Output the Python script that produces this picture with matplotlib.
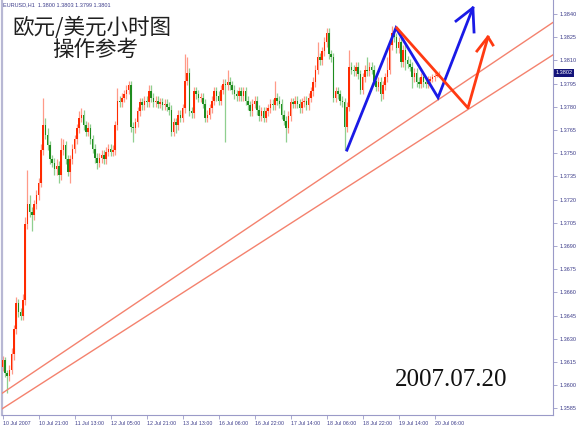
import matplotlib
matplotlib.use("Agg")
import matplotlib.pyplot as plt

# ---------------- data ----------------
first_open = 1.3612
closes = [
    1.3616, 1.3608, 1.3606, 1.3610, 1.3620, 1.3636, 1.3653, 1.3647, 1.3645, 1.3655,
    1.3704, 1.3717, 1.3712, 1.3710, 1.3717, 1.3723, 1.3731, 1.3752, 1.3768, 1.3762,
    1.3755, 1.3746, 1.3744, 1.3740, 1.3742, 1.3736, 1.3752, 1.3755, 1.3746, 1.3738,
    1.3746, 1.3753, 1.3759, 1.3766, 1.3773, 1.3775, 1.3768, 1.3764, 1.3766, 1.3759,
    1.3753, 1.3747, 1.3744, 1.3747, 1.3749, 1.3746, 1.3751, 1.3753, 1.3751, 1.3752,
    1.3768, 1.3784, 1.3783, 1.3786, 1.3788, 1.3791, 1.3794, 1.3767, 1.3766, 1.3770,
    1.3777, 1.3783, 1.3781, 1.3784, 1.3783, 1.3790, 1.3786, 1.3783, 1.3784, 1.3782,
    1.3783, 1.3781, 1.3782, 1.3780, 1.3778, 1.3764, 1.3770, 1.3768, 1.3775, 1.3773,
    1.3779, 1.3797, 1.3802, 1.3777, 1.3776, 1.3790, 1.3788, 1.3786, 1.3786, 1.3782,
    1.3773, 1.3775, 1.3779, 1.3784, 1.3790, 1.3787, 1.3784, 1.3791, 1.3795, 1.3794,
    1.3796, 1.3794, 1.3791, 1.3788, 1.3787, 1.3790, 1.3787, 1.3790, 1.3784, 1.3781,
    1.3777, 1.3782, 1.3784, 1.3778, 1.3774, 1.3777, 1.3773, 1.3777, 1.3779, 1.3782,
    1.3781, 1.3786, 1.3784, 1.3782, 1.3775, 1.3771, 1.3766, 1.3774, 1.3783, 1.3782,
    1.3784, 1.3782, 1.3779, 1.3783, 1.3784, 1.3781, 1.3786, 1.3790, 1.3796, 1.3804,
    1.3812, 1.3810, 1.3816, 1.3822, 1.3828, 1.3814, 1.3812, 1.3786, 1.3790, 1.3788,
    1.3784, 1.3783, 1.3767, 1.3780, 1.3806, 1.3804, 1.3803, 1.3806, 1.3801, 1.3791,
    1.3799, 1.3804, 1.3803, 1.3806, 1.3804, 1.3797, 1.3793, 1.3796, 1.3788, 1.3794,
    1.3799, 1.3804, 1.3820, 1.3828, 1.3825, 1.3818, 1.3822, 1.3809, 1.3817, 1.3810,
    1.3808, 1.3806, 1.3799, 1.3802, 1.3796, 1.3795, 1.3799, 1.3796, 1.3795, 1.3797,
    1.3798, 1.3799, 1.3800, 1.3800, 1.3801,
]
# wick lengths beyond the body, in pips
wick_up = [
    3, 2, 2, 3, 4, 3, 4, 3, 3, 4,
    5, 22, 6, 3, 3, 3, 3, 4, 18, 5,
    4, 3, 3, 3, 4, 3, 8, 4, 3, 3,
    3, 3, 3, 3, 4, 4, 3, 3, 4, 3,
    3, 3, 3, 3, 3, 3, 3, 3, 3, 3,
    3, 8, 3, 3, 3, 3, 3, 3, 3, 3,
    3, 3, 3, 3, 3, 4, 4, 3, 3, 3,
    3, 3, 3, 3, 3, 3, 3, 3, 3, 3,
    3, 17, 10, 3, 3, 3, 3, 3, 3, 3,
    3, 3, 3, 3, 3, 3, 3, 3, 3, 3,
    8, 3, 3, 3, 3, 3, 3, 3, 3, 3,
    3, 3, 3, 3, 3, 3, 3, 3, 3, 3,
    3, 11, 3, 3, 3, 3, 3, 3, 3, 3,
    3, 3, 3, 3, 3, 3, 3, 3, 3, 3,
    10, 3, 3, 3, 3, 3, 3, 3, 3, 3,
    3, 3, 3, 3, 11, 3, 3, 3, 3, 3,
    3, 3, 8, 3, 3, 3, 3, 3, 3, 3,
    3, 8, 3, 4, 3, 3, 3, 3, 3, 3,
    3, 3, 3, 3, 3, 3, 3, 3, 3, 3,
    2, 2, 2, 2, 2,
]
wick_dn = [
    3, 3, 11, 3, 3, 4, 3, 3, 3, 3,
    3, 3, 3, 10, 3, 3, 3, 3, 3, 3,
    3, 3, 3, 4, 4, 5, 3, 3, 3, 3,
    7, 3, 3, 3, 3, 3, 3, 3, 3, 3,
    3, 3, 4, 3, 3, 3, 3, 3, 3, 3,
    3, 3, 3, 3, 3, 3, 3, 3, 9, 3,
    3, 3, 3, 3, 3, 3, 3, 3, 3, 3,
    3, 3, 3, 3, 3, 3, 3, 5, 3, 3,
    3, 3, 3, 3, 3, 3, 3, 3, 3, 3,
    3, 3, 3, 3, 3, 3, 3, 3, 3, 37,
    3, 3, 3, 3, 3, 3, 3, 3, 3, 3,
    3, 3, 3, 3, 3, 3, 3, 3, 3, 3,
    3, 3, 3, 3, 3, 3, 9, 3, 3, 3,
    3, 3, 3, 3, 3, 3, 3, 3, 3, 3,
    3, 3, 3, 3, 3, 3, 3, 3, 3, 3,
    3, 3, 15, 3, 3, 3, 3, 3, 3, 3,
    3, 3, 3, 3, 3, 3, 3, 3, 4, 3,
    3, 3, 3, 3, 3, 3, 3, 3, 3, 6,
    3, 3, 7, 3, 3, 3, 3, 3, 3, 3,
    2, 2, 2, 1, 1,
]

xtick_bars = [0, 16, 32, 48, 64, 80, 96, 112, 128, 144, 160, 176, 192]
xtick_labels = ["10 Jul 2007", "10 Jul 21:00", "11 Jul 13:00", "12 Jul 05:00",
                "12 Jul 21:00", "13 Jul 13:00", "16 Jul 06:00", "16 Jul 22:00",
                "17 Jul 14:00", "18 Jul 06:00", "18 Jul 22:00", "19 Jul 14:00",
                "20 Jul 06:00"]
ytick_values = [1.3585, 1.3600, 1.3615, 1.3630, 1.3645, 1.3660, 1.3675, 1.3690,
                1.3705, 1.3720, 1.3735, 1.3750, 1.3765, 1.3780, 1.3795, 1.3810,
                1.3825, 1.3840]
current_price = 1.3802

# channel lines (bar index, price)
channel_upper_x = [-1, 245]
channel_upper_y = [1.3594, 1.3835]
channel_lower_x = [-1, 245]
channel_lower_y = [1.3584, 1.3814]

# forecast paths
blue_path_x = [153.0, 174.8, 193.5, 209.0]
blue_path_y = [1.3752, 1.3831, 1.3786, 1.3844]
blue_head_x = [201.5, 209.0, 209.5]
blue_head_y = [1.38355, 1.3844, 1.38284]
red_path_x = [175.2, 206.8, 215.7]
red_path_y = [1.3831, 1.37793, 1.38252]
red_head_x = [210.8, 215.7, 217.9]
red_head_y = [1.38161, 1.38252, 1.38200]

# ---------------- drawing ----------------
W, H = 580, 430
fig = plt.figure(figsize=(W / 100, H / 100), dpi=100)
fig.patch.set_facecolor("white")
ax = fig.add_axes([2 / W, 15 / H, 551 / W, 415 / H])
ax.set_xlim(-0.3, 244.6)
ax.set_ylim(1.35807, 1.38491)

pip = 0.0001
red_body, green_body = "#ff2a00", "#1e8c1e"
red_wick, green_wick = "#ff9a88", "#8fcf8f"
opens = [first_open] + closes[:-1]
for i, (o, c) in enumerate(zip(opens, closes)):
    up = c >= o
    hi = max(o, c) + wick_up[i] * pip
    lo = min(o, c) - wick_dn[i] * pip
    ax.vlines(i, lo, hi, color=red_wick if up else green_wick, lw=0.9, zorder=2)
    h = max(abs(c - o), 0.6 * pip)
    ax.bar(i, h, bottom=min(o, c), width=0.7,
           color=red_body if up else green_body, lw=0, zorder=3)

line_col = "#f4826e"
ax.plot(channel_upper_x, channel_upper_y, color=line_col, lw=1.0, zorder=4)
ax.plot(channel_lower_x, channel_lower_y, color=line_col, lw=1.0, zorder=4)

ax.plot(blue_path_x, blue_path_y, color="#1a1ae6", lw=2.0, zorder=5,
        solid_joinstyle="miter")
ax.plot(blue_head_x, blue_head_y, color="#1a1ae6", lw=2.0, zorder=5)
ax.plot(red_path_x, red_path_y, color="#ff3a12", lw=2.0, zorder=5)
ax.plot(red_head_x, red_head_y, color="#ff3a12", lw=2.0, zorder=5)

# axes styling
spine_col = "#9a9ac8"
ax.spines["top"].set_visible(False)
ax.spines["left"].set_color("#b8b8d4")
ax.spines["left"].set_linewidth(1.6)
ax.spines["right"].set_color(spine_col)
ax.spines["bottom"].set_color(spine_col)
ax.yaxis.tick_right()
ax.set_yticks(ytick_values)
ax.set_yticklabels([f"{v:.4f}" for v in ytick_values])
ax.set_xticks(xtick_bars)
ax.set_xticklabels(xtick_labels, ha="left")
label_font = ["Liberation Sans", "DejaVu Sans"]
ax.tick_params(axis="y", length=3, width=0.6, color=spine_col, pad=1.5,
               labelsize=4.0, labelcolor="#3c3c8a")
ax.tick_params(axis="x", length=3, width=0.6, color=spine_col, pad=1.5,
               labelsize=3.8, labelcolor="#3c3c8a")
for t in ax.get_xticklabels() + ax.get_yticklabels():
    t.set_family(label_font)

# current price tag
ax.text(1.004, current_price, f"{current_price:.4f}", transform=ax.get_yaxis_transform(),
        ha="left", va="center", fontsize=4.0, color="white", family=label_font,
        bbox=dict(boxstyle="square,pad=0.25", fc="#14147a", ec="none"), zorder=6)

# header
fig.text(3 / W, 1 - 5 / H, "EURUSD,H1  1.3800 1.3803 1.3799 1.3801", ha="left",
         va="center", fontsize=4.0, color="#3c3c8a", family=label_font)

cjk = ["Noto Sans CJK SC", "DejaVu Sans"]
fig.text(12 / W, 1 - 28 / H, "欧元/美元小时图", ha="left", va="center",
         fontsize=15.5, color="#202020", family=cjk)
fig.text(95 / W, 1 - 50 / H, "操作参考", ha="center", va="center",
         fontsize=15.5, color="#202020", family=cjk)
fig.text(451 / W, 1 - 380 / H, "2007.07.20", ha="center", va="center",
         fontsize=18, color="#111111", family=["Liberation Serif", "DejaVu Serif"])

fig.savefig("out.png", dpi=100)
